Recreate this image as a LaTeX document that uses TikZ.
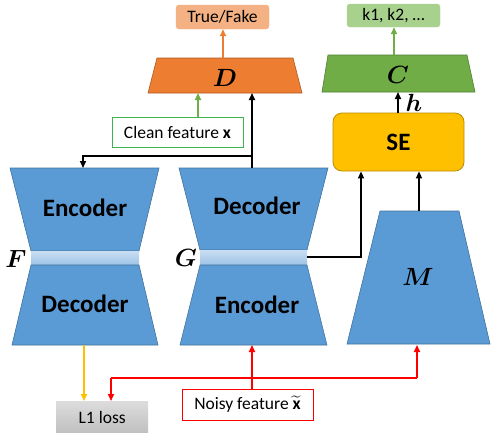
\documentclass[tikz,border=0pt]{standalone}
\usepackage{amsmath}
\usepackage{bm}
\usepackage{fontspec}
\setmainfont{Carlito}
\usetikzlibrary{arrows.meta}
\definecolor{bfill}{HTML}{5B9BD5}
\definecolor{bdraw}{HTML}{41719C}
\definecolor{bandtop}{HTML}{C9DEF2}
\definecolor{bandbot}{HTML}{9DC3E6}
\definecolor{ofill}{HTML}{ED7D31}
\definecolor{odraw}{HTML}{AE5A21}
\definecolor{tffill}{HTML}{F4B183}
\definecolor{tfdraw}{HTML}{F4B183}
\definecolor{gfill}{HTML}{70AD47}
\definecolor{gdraw}{HTML}{507E32}
\definecolor{kfill}{HTML}{A9D18E}
\definecolor{kdraw}{HTML}{A9D18E}
\definecolor{sefill}{HTML}{FFC000}
\definecolor{sedraw}{HTML}{BC8C00}
\definecolor{cleang}{HTML}{3CB44B}
\definecolor{yarrow}{HTML}{FFC000}
\definecolor{garrow}{HTML}{70AD47}
\definecolor{oarrow}{HTML}{ED7D31}
\definecolor{grtop}{HTML}{DCDCDC}
\definecolor{grbot}{HTML}{BFBFBF}
\tikzset{
  trap/.style={fill=bfill,draw=bdraw,line width=0.6pt},
  band/.style={top color=bandtop,bottom color=bandbot,draw=none},
  bigtxt/.style={font=\fontsize{25}{29}\selectfont\bfseries},
  symb/.style={font=\fontsize{25}{29}\selectfont},
  smalltxt/.style={font=\fontsize{17.5}{20}\selectfont},
  conn/.style={line width=1.6pt,-{Triangle[length=7pt,width=6pt]}},
  plain/.style={line width=1.6pt},
}
\begin{document}
\begin{tikzpicture}[x=1pt,y=-1pt]
\useasboundingbox (0,0) rectangle (491,432);

% ---- F network ----
\draw[trap] (10,168) -- (159,168) -- (139,251) -- (31,251) -- cycle;
\fill[band] (31,251) rectangle (139,265);
\draw[trap] (31,265) -- (139,265) -- (158,345) -- (12,345) -- cycle;
\node[bigtxt] (fenc) at (85,208) {Encoder};
\node[bigtxt] (fdec) at (85,304) {Decoder};
\node[symb] (flab) at (16,259) {$\bm{F}$};

% ---- G network ----
\draw[trap] (179,168) -- (328,168) -- (307,250) -- (200,250) -- cycle;
\fill[band] (200,250) rectangle (307,265);
\draw[trap] (200,265) -- (307,265) -- (327,345) -- (180,345) -- cycle;
\node[bigtxt] (gdec) at (257,206) {Decoder};
\node[bigtxt] (genc) at (257,305) {Encoder};
\node[symb] (glab) at (186,258) {$\bm{G}$};

% ---- M ----
\draw[trap] (380,211) -- (459,211) -- (490,344) -- (347,344) -- cycle;
\node[symb] (mlab) at (418,277) {$\bm{M}$};

% ---- SE ----
\node[draw=sedraw,fill=sefill,line width=0.8pt,rounded corners=9pt,minimum width=131pt,minimum height=58pt,
      font=\fontsize{25}{28}\selectfont\bfseries] (se) at (398.5,142) {SE};

% ---- C ----
\draw[fill=gfill,draw=gdraw,line width=0.6pt] (328,55) -- (467,55) -- (475,92) -- (322,92) -- cycle;
\node[symb] (clab) at (398,75) {$\bm{C}$};
\node[draw=kdraw,fill=kfill,rounded corners=3pt,minimum width=93pt,minimum height=23pt,smalltxt] (kbox) at (393.5,15.5) {k1, k2, \dots};

% ---- D ----
\draw[fill=ofill,draw=odraw,line width=0.6pt] (157,58) -- (293,58) -- (302,93) -- (148,93) -- cycle;
\node[symb] (dlab) at (225,78) {$\bm{D}$};
\node[draw=tfdraw,fill=tffill,rounded corners=3pt,minimum width=93pt,minimum height=24pt,smalltxt] (tf) at (222.5,17) {True/Fake};

% ---- text boxes ----
\node[draw=cleang,fill=white,line width=0.8pt,minimum width=131pt,minimum height=30pt,smalltxt] (clean) at (177.5,132) {Clean feature $\mathbf{x}$};
\node[draw=red,fill=white,line width=0.8pt,minimum width=131pt,minimum height=31pt,smalltxt] (noisy) at (247.5,404.5) {Noisy feature $\widetilde{\mathbf{x}}$};
\node[top color=grtop,bottom color=grbot,minimum width=92pt,minimum height=33pt,smalltxt,anchor=north west,inner sep=0pt] (l1) at (56,401) {L1 loss};

% ---- coordinates ----
\coordinate (dtop) at (223,58);
\coordinate (dbotg) at (198,93);
\coordinate (dbotb) at (252,93);
\coordinate (ctop) at (394,55);
\coordinate (cbot) at (398,92);
\coordinate (gtop) at (252,168);
\coordinate (junc) at (252,156);
\coordinate (fturn) at (83,156);
\coordinate (ftop) at (83,168);
\coordinate (gband) at (307,257);
\coordinate (gturn) at (361,257);
\coordinate (mtop) at (419,211);
\coordinate (fbot) at (84,345);
\coordinate (gbot) at (252,345);
\coordinate (mbot) at (417,345);
\coordinate (rj) at (252,378);
\coordinate (rl) at (111,378);
\coordinate (rr) at (417,378);

% ---- connectors ----
\draw[conn,oarrow] (dtop) -- (tf.south -| dtop);
\draw[conn,garrow] (clean.north -| dbotg) -- (dbotg);
\draw[conn,garrow] (ctop) -- (kbox.south -| ctop);
\draw[conn,black] (se.north -| cbot) -- (cbot);
\node[symb,anchor=west] (hlab) at (402,103) {$\bm{h}$};
\draw[conn,black] (gtop) -- (dbotb);
\draw[conn,black] (junc) -- (fturn) -- (ftop);
\draw[conn,black] (gband) -- (gturn) -- (gturn |- se.south);
\draw[conn,black] (mtop) -- (mtop |- se.south);
\draw[conn,yarrow] (fbot) -- (fbot |- l1.north);
\draw[conn,red] (noisy.north -| gbot) -- (gbot);
\draw[plain,red] (rl) -- (rr);
\draw[conn,red] (rl) -- (rl |- l1.north);
\draw[conn,red] (rr) -- (mbot);
\end{tikzpicture}
\end{document}
